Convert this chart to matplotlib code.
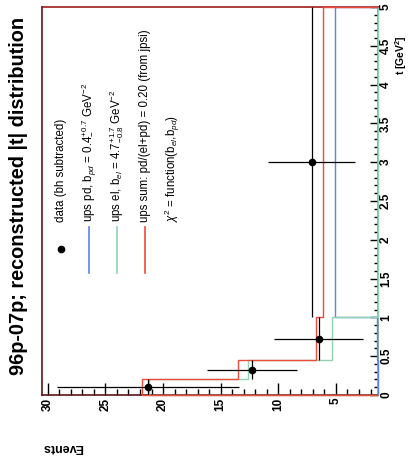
import numpy as np
import matplotlib
matplotlib.use("Agg")
import matplotlib.pyplot as plt
from matplotlib.ticker import MultipleLocator, FixedLocator
from matplotlib.lines import Line2D

plt.rcParams['font.family'] = ['Liberation Sans', 'DejaVu Sans']
plt.rcParams['mathtext.fontset'] = 'custom'
plt.rcParams['mathtext.rm'] = 'Liberation Sans'
plt.rcParams['mathtext.it'] = 'Liberation Sans:italic'
plt.rcParams['mathtext.bf'] = 'Liberation Sans:bold'

# |t| binning and measured counts
t_edges = [0.0, 0.2, 0.45, 1.0, 5.0]
t_centers = [0.1, 0.325, 0.725, 3.0]
data_counts = [21.3, 12.3, 6.5, 7.1]
data_errors = [7.9, 3.9, 3.85, 3.75]

# model histograms
ups_pd = [0.6, 0.9, 1.45, 5.1]
ups_el = [21.2, 12.6, 5.3, 1.0]
ups_sum = [21.8, 13.5, 6.75, 6.1]

events_ticks = [30, 25, 20, 15, 10, 5]
events_labels = ['30', '25', '20', '15', '10', '5']
t_ticks = [0, 0.5, 1, 1.5, 2, 2.5, 3, 3.5, 4, 4.5, 5]
t_labels = ['0', '0.5', '1', '1.5', '2', '2.5', '3', '3.5', '4', '4.5', '5']

EV_LO, EV_HI = 1.35, 30.5
W, H = 410, 462

C_PD = '#5f82ee'
C_EL = '#8fd3b3'
C_SUM = '#ef4b3c'
C_FRAME = '#5a1616'

fig = plt.figure(figsize=(W / 100, H / 100), dpi=100)
fig.patch.set_facecolor('white')


def fx(x):
    return x / W


def fy(y):
    return 1 - y / H


ax = fig.add_axes([fx(42), fy(395), (378 - 42) / W, (395 - 7) / H])
ax.set_xlim(EV_HI, EV_LO)
ax.set_ylim(0, 5)

# model histograms, drawn with counts on the horizontal axis
for vals, col in [(ups_pd, C_PD), (ups_el, C_EL), (ups_sum, C_SUM)]:
    v = np.clip(np.asarray(vals, float), EV_LO, None)
    ax.stairs(v, t_edges, orientation='horizontal', baseline=EV_LO,
              color=col, lw=1.0, clip_on=False, zorder=3)

# data points with bin-width and statistical errors
tc = np.asarray(t_centers)
te = np.asarray(t_edges)
t_err = [tc - te[:-1], te[1:] - tc]
ax.errorbar(data_counts, t_centers, xerr=data_errors, yerr=t_err, fmt='o',
            ms=4.5, color='black', ecolor='black', elinewidth=0.9, capsize=0,
            zorder=4)

# frame
for side in ['left', 'bottom', 'top', 'right']:
    ax.spines[side].set_color(C_FRAME)
    ax.spines[side].set_linewidth(1.2)
ax.spines['top'].set_color('#a01e1e')
ax.spines['right'].set_color('#7aa88c')

# counts axis (bottom)
ax.xaxis.set_ticks_position('bottom')
ax.xaxis.set_major_locator(FixedLocator(events_ticks))
ax.set_xticklabels(events_labels, rotation=90, fontweight='bold', fontsize=8.5,
                   va='top', ha='center')
ax.xaxis.set_minor_locator(MultipleLocator(1))
ax.tick_params(axis='x', which='major', direction='in', length=8.5, width=1,
               pad=2, color='black')
ax.tick_params(axis='x', which='minor', direction='in', length=4.3, width=1,
               color='black')

# |t| axis (right)
ax.yaxis.set_ticks_position('right')
ax.yaxis.set_major_locator(FixedLocator(t_ticks))
ax.set_yticklabels(t_labels, rotation=90, fontweight='bold', fontsize=8.5,
                   va='center', ha='left')
ax.yaxis.set_minor_locator(MultipleLocator(0.1))
ax.tick_params(axis='y', which='major', direction='in', length=5.5, width=1,
               pad=1.5, color='black')
ax.tick_params(axis='y', which='minor', direction='in', length=3, width=1,
               color='black')

# titles
fig.text(fx(18.5), fy(196), '96p-07p; reconstructed |t| distribution',
         rotation=90, fontsize=14.3, fontweight='bold', ha='center',
         va='center')
fig.text(fx(63), fy(447), 'Events', rotation=180, fontsize=9,
         fontweight='bold', ha='center', va='center')
fig.text(fx(401.5), fy(55), 't [GeV$^{\\mathbf{2}}$]', rotation=90,
         fontsize=7.5, fontweight='bold', ha='center', va='center')

# legend
leg_x = [61, 89, 117, 145, 172]
fig.add_artist(Line2D([fx(61)], [fy(249)], marker='o', ms=4.5, color='black',
                      ls='none', transform=fig.transFigure))
for xx, col in [(89, C_PD), (117, C_EL), (145, C_SUM)]:
    fig.add_artist(Line2D([fx(xx), fx(xx)], [fy(227), fy(273)], color=col,
                          lw=1.2, transform=fig.transFigure))
leg_texts = [
    'data (bh subtracted)',
    'ups pd, b$_{pd}$ = 0.4$^{+0.7}_{-}$ GeV$^{-2}$',
    'ups el, b$_{el}$ = 4.7$^{+1.7}_{-0.8}$ GeV$^{-2}$',
    'ups sum: pd/(el+pd) = 0.20 (from jpsi)',
    '$\\chi^{2}$ = function(b$_{el}$,b$_{pd}$)',
]
for xx, txt in zip(leg_x, leg_texts):
    fig.text(fx(xx), fy(222), txt, rotation=90, fontsize=8.3, ha='center',
             va='bottom')

fig.savefig('out.png', dpi=100, facecolor='white')
